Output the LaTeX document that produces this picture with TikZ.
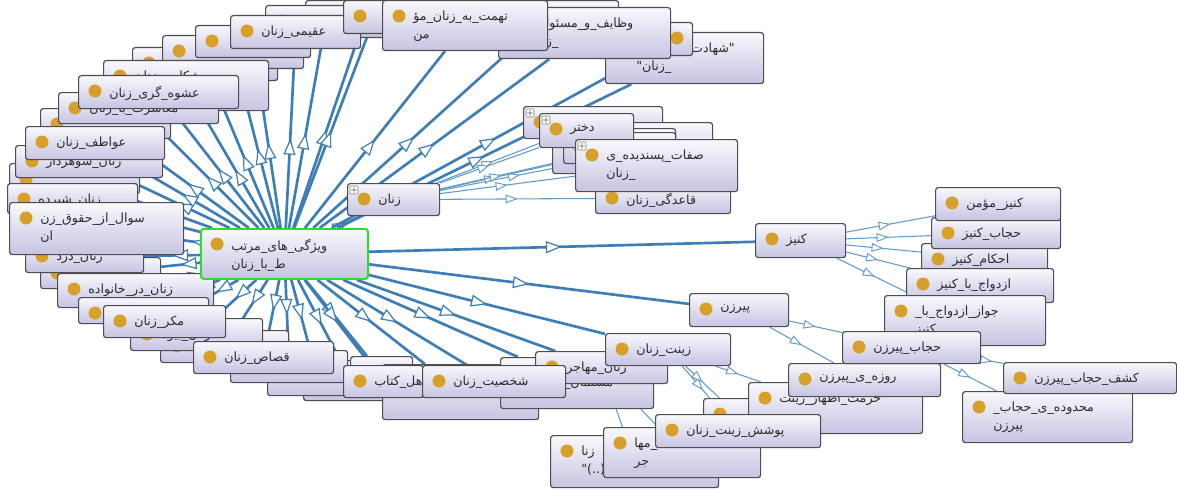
\documentclass[tikz,border=0pt]{standalone}
\usepackage{fontspec}
\newfontfamily\fafont[Script=Arabic]{DejaVu Sans}
\TeXXeTstate=1
\usetikzlibrary{arrows.meta,calc,decorations.markings,backgrounds}
\definecolor{thickc}{RGB}{62,126,182}
\definecolor{thinc}{RGB}{95,155,205}
\definecolor{boxc}{RGB}{78,78,82}
\definecolor{topc}{RGB}{248,248,252}
\definecolor{botc}{RGB}{198,196,226}
\definecolor{dotc}{RGB}{214,160,42}
\definecolor{txtc}{RGB}{45,45,48}
\definecolor{hubc}{RGB}{40,222,40}
\newcommand\fa[1]{\beginR#1\endR}
\newcommand\ocls[7][]{%
  \node[clsbox,#1,minimum width=#5*0.75pt,minimum height=#6*0.75pt] (#2) at (#3,#4) {};
  \fill[dotc] ($(#2.north west)+(17,16)$) circle (6.5);
  \node[clstext] (#2-t) at ($(#2.north west)+(31,11)$) {#7};}
\newcommand\plus[1]{\node[plusbox] (#1-p) at ($(#1.north west)+(7,7)$) {+};}
\begin{document}
\begin{tikzpicture}[x=0.75pt,y=-0.75pt,
  clsbox/.style={anchor=north west,draw=boxc,line width=0.9pt,rounded corners=2pt,top color=topc,bottom color=botc,inner sep=0pt},
  hubbox/.style={draw=hubc,line width=1.4pt},
  clstext/.style={anchor=north west,inner sep=0pt,align=left,text=txtc,font=\fafont\fontsize{9.5}{13.5}\selectfont},
  plusbox/.style={draw=gray,fill=white,inner sep=0pt,minimum size=6pt,rounded corners=0.5pt,font=\fontsize{6}{6}\selectfont},
  tarrow/.style={postaction={decorate},decoration={markings,mark=at position 0.5 with {\arrow{Triangle[fill=white,length=12pt,width=9pt,line width=0.9pt]}}}},
  narrow/.style={postaction={decorate},decoration={markings,mark=at position 0.5 with {\arrow{Triangle[fill=white,length=9pt,width=6.5pt,line width=0.7pt]}}}},
  thickedge/.style={draw=thickc,line width=2pt,tarrow},
  thinedge/.style={draw=thinc,line width=0.8pt,narrow}]
\useasboundingbox (0,0) rectangle (1177,492);
\ocls{hd}{132}{47}{145}{33}{}
\ocls{hc}{162}{35}{141}{33}{}
\ocls{hb}{195}{25}{115}{32}{}
\ocls{ha1}{305}{0}{120}{30}{}
\ocls{ha2}{265}{5}{120}{32}{}
\ocls{aqimi}{230}{15}{130}{33}{\fa{عقیمی\_زنان}}
\ocls{ha4}{343}{0}{62}{33}{}
\ocls{shekayat}{103}{60}{165}{50}{\fa{شکایت\_زنان}}
\ocls{h40}{40}{108}{130}{30}{}
\ocls{h58}{58}{92}{160}{31}{\fa{معاشرت\_با\_زنان}}
\ocls{ashve}{78}{75}{160}{33}{\fa{عشوه\_گری\_زنان}}
\ocls{h9}{9}{163}{130}{30}{}
\ocls{shohardar}{15}{145}{147}{32}{\fa{زنان\_شوهردار}}
\ocls{avatef}{25}{126}{139}{33}{\fa{عواطف\_زنان}}
\ocls{shirde}{7}{183}{130}{30}{\fa{زنان\_شیرده}}
\ocls{h257}{40}{257}{120}{31}{}
\ocls{dozd}{25}{240}{118}{32}{\fa{زنان\_دزد}}
\ocls{soal}{9}{202}{174}{52}{\fa{سوال\_از\_حقوق\_زن}\\\fa{ان}}
\ocls{khanevade}{57}{273}{156}{34}{\fa{زنان\_در\_خانواده}}
\ocls{h78}{78}{297}{130}{26}{}
\ocls{h160}{160}{330}{128}{32}{}
\ocls{h130}{130}{318}{132}{32}{\fa{زنان\_بیوه}}
\ocls{makr}{103}{305}{122}{32}{\fa{مکر\_زنان}}
\ocls{h303}{303}{370}{100}{30}{}
\ocls{h267}{267}{360}{100}{35}{}
\ocls{h230}{230}{350}{117}{32}{}
\ocls{qesas}{193}{341}{140}{32}{\fa{قصاص\_زنان}}
\ocls{h350}{350}{356}{62}{35}{}
\ocls{h382}{382}{364}{156}{55}{\mbox{}\\\hspace*{12pt}\fa{ول)}}
\ocls{ketab}{343}{365}{80}{32}{\fa{اهل\_کتاب}}
\ocls{masael}{500}{357}{153}{51}{\mbox{}\\\fa{مسلمان\_(کافر)}}
\ocls{mohajer}{535}{351}{132}{32}{\fa{زنان\_مهاجر}}
\ocls{zinat}{605}{333}{125}{32}{\fa{زینت\_زنان}}
\ocls{shakhsiat}{422}{365}{143}{32}{\fa{شخصیت\_زنان}}
\ocls{h550}{550}{435}{168}{52}{\fa{زنا}\\\fa{(..)"}}
\ocls{h603}{603}{427}{157}{50}{\fa{\_مها}\\\fa{جر}}
\ocls{h703}{703}{398}{70}{35}{}
\ocls{hormat}{748}{382}{174}{51}{\fa{حرمت\_اظهار\_زینت}}
\ocls{rouze}{788}{363}{152}{33}{\fa{روزه\_ی\_پیرزن}}
\ocls{poushesh}{655}{414}{165}{33}{\fa{پوشش\_زینت\_زنان}}
\ocls{kaniz}{755}{223}{90}{34}{\fa{کنیز}}
\ocls{akaniz}{921}{243}{126}{29}{\fa{احکام\_کنیز}}
\ocls{hkaniz}{931}{217}{129}{31}{\fa{حجاب\_کنیز}}
\ocls{kmomen}{935}{187}{125}{33}{\fa{کنیز\_مؤمن}}
\ocls{ezdevaj}{906}{268}{147}{34}{\fa{ازدواج\_با\_کنیز}}
\ocls{javaz}{884}{295}{161}{50}{\fa{جواز\_ازدواج\_با\_}\\\fa{کنیز}}
\ocls{pirzan}{689}{293}{99}{33}{\fa{پیرزن}}
\ocls{hpirzan}{842}{331}{138}{32}{\fa{حجاب\_پیرزن}}
\ocls{mahdude}{962}{391}{170}{51}{\fa{محدوده\_ی\_حجاب\_}\\\fa{پیرزن}}
\ocls{kashf}{1003}{362}{173}{31}{\fa{کشف\_حجاب\_پیرزن}}
\ocls{zanan}{347}{183}{92}{32}{\fa{زنان}}
\plus{zanan}
\ocls{h523}{523}{106}{139}{32}{}
\plus{h523}
\ocls{h600}{600}{122}{112}{51}{}
\ocls{h552}{552}{128}{123}{45}{}
\ocls{h563}{563}{132}{112}{31}{}
\ocls{dokhtar}{539}{113}{94}{34}{\fa{دختر}}
\plus{dokhtar}
\ocls{qaedegi}{595}{182}{135}{31}{\fa{قاعدگی\_زنان}}
\ocls{sefat}{575}{139}{162}{52}{\fa{صفات\_پسندیده\_ی}\\\fa{\_زنان}}
\plus{sefat}
\ocls{shahadat}{605}{32}{158}{51}{\fa{"شهادت\_دادن\_در\_}\\\fa{\_زنان"}}
\ocls{ha3}{462}{0}{156}{45}{}
\ocls{hsmall}{660}{22}{32}{33}{}
\ocls{vazayef}{498}{7}{172}{51}{\fa{وظایف\_و\_مسئولیت}\\\fa{\_زنان}}
\ocls{tohmat}{382}{0}{165}{50}{\fa{تهمت\_به\_زنان\_مؤ}\\\fa{من}}
\ocls[hubbox]{hub}{200}{228}{167}{50}{\fa{ویژگی\_های\_مرتب}\\\fa{ط\_با\_زنان}}
\begin{pgfonlayer}{background}
\foreach \n in {hd,hc,hb,ha1,ha2,aqimi,ha4,ha3,shekayat,h40,h58,ashve,h9,shohardar,avatef,shirde,h257,dozd,soal,khanevade,h78,h160,h130,makr,h303,h267,h230,qesas,h350,h382,ketab,masael,mohajer,zinat,shakhsiat,kaniz,pirzan,zanan,shahadat,hsmall,vazayef,tohmat}
  \draw[thickedge] (hub) -- (\n);
\foreach \n in {h523,h600,h552,h563,dokhtar,qaedegi,sefat}
  \draw[thinedge] (zanan) -- (\n);
\foreach \n in {kmomen,hkaniz,akaniz,ezdevaj,javaz}
  \draw[thinedge] (kaniz) -- (\n);
\foreach \n in {hpirzan,rouze}
  \draw[thinedge] (pirzan) -- (\n);
\foreach \n in {kashf,mahdude}
  \draw[thinedge] (hpirzan) -- (\n);
\foreach \n in {poushesh,hormat,h703}
  \draw[thinedge] (zinat) -- (\n);
\foreach \n in {h550,h603}
  \draw[thinedge] (mohajer) -- (\n);
\end{pgfonlayer}
\end{tikzpicture}
\end{document}
